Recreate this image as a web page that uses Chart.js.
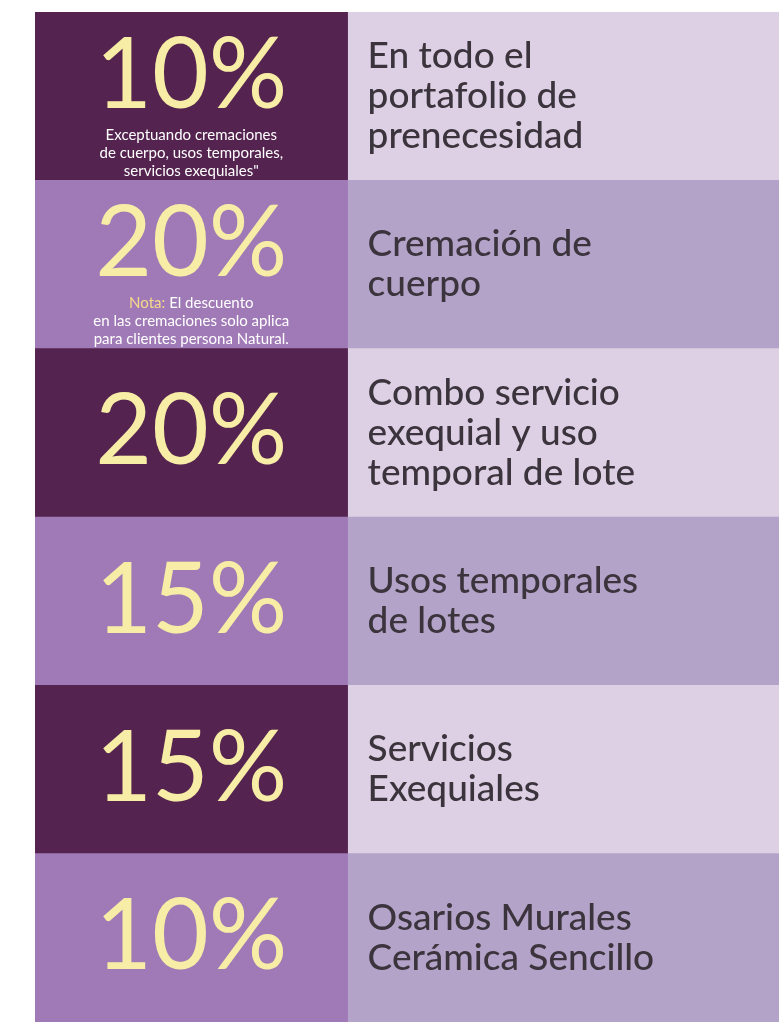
<!DOCTYPE html>
<html lang="es">
<head>
<meta charset="UTF-8">
<script src="https://cdn.jsdelivr.net/npm/chart.js"></script>
<title>Descuentos</title>
<style>
  html, body { margin: 0; padding: 0; background: #fff; }
  #wrap { width: 779px; height: 1024px; }
</style>
</head>
<body>
<div id="wrap"><canvas id="chart"></canvas></div>
<script>
// row data
const discounts = [10, 20, 20, 15, 15, 10];
const descriptions = [
  ['En todo el', 'portafolio de', 'prenecesidad'],
  ['Cremación de', 'cuerpo'],
  ['Combo servicio', 'exequial y uso', 'temporal de lote'],
  ['Usos temporales', 'de lotes'],
  ['Servicios', 'Exequiales'],
  ['Osarios Murales', 'Cerámica Sencillo']
];
const notes = [
  ['Exceptuando cremaciones', 'de cuerpo, usos temporales,', 'servicios exequiales"'],
  ['Nota: El descuento', 'en las cremaciones solo aplica', 'para clientes persona Natural.'],
  [], [], [], []
];
const leftColors = ['#54234f', '#a07ab6', '#54234f', '#a07ab6', '#54234f', '#a07ab6'];
const rightColors = ['#ddd0e4', '#b4a3c8', '#ddd0e4', '#b4a3c8', '#ddd0e4', '#b4a3c8'];

const labels = discounts.map((d, i) => 'fila ' + (i + 1));
const FONT = 'Lato, "Open Sans", sans-serif';

const textPlugin = {
  id: 'rowText',
  afterDatasetsDraw(chart) {
    const ctx = chart.ctx;
    const left = chart.getDatasetMeta(0).data;
    const right = chart.getDatasetMeta(1).data;
    ctx.save();
    left.forEach((bar, i) => {
      const cx = (bar.base + bar.x) / 2;
      const top = bar.y - bar.height / 2;
      const h = bar.height;
      const hasNote = notes[i].length > 0;
      ctx.fillStyle = '#f7eda6';
      ctx.textAlign = 'center';
      ctx.textBaseline = 'middle';
      ctx.font = '400 98px ' + FONT;
      ctx.fillText(discounts[i] + '%', cx, hasNote ? top + h * 0.38 : top + h / 2);
      if (hasNote) {
        ctx.font = '15px ' + FONT;
        notes[i].forEach((line, j) => {
          const y = top + h * 0.73 + j * 18;
          if (line.startsWith('Nota:')) {
            const w1 = ctx.measureText('Nota:').width;
            const w = ctx.measureText(line).width;
            ctx.textAlign = 'left';
            ctx.fillStyle = '#f7d98a';
            ctx.fillText('Nota:', cx - w / 2, y);
            ctx.fillStyle = '#ffffff';
            ctx.fillText(line.slice(5), cx - w / 2 + w1, y);
            ctx.textAlign = 'center';
          } else {
            ctx.fillStyle = '#ffffff';
            ctx.fillText(line, cx, y);
          }
        });
      }
      const rb = right[i];
      ctx.fillStyle = '#3b343d';
      ctx.textAlign = 'left';
      ctx.font = '500 37px ' + FONT;
      const lines = descriptions[i];
      const lh = 40;
      const y0 = rb.y - (lines.length - 1) * lh / 2;
      lines.forEach((line, j) => ctx.fillText(line, rb.base + 20, y0 + j * lh));
    });
    ctx.restore();
  }
};

new Chart(document.getElementById('chart'), {
  type: 'bar',
  data: {
    labels: labels,
    datasets: [
      { data: discounts.map(() => [0, 1]), backgroundColor: leftColors, borderWidth: 0 },
      { data: discounts.map(() => [1, 2.38]), backgroundColor: rightColors, borderWidth: 0 }
    ]
  },
  options: {
    indexAxis: 'y',
    responsive: true,
    maintainAspectRatio: false,
    animation: false,
    layout: { padding: { left: 35, top: 12, right: 0, bottom: 2 } },
    plugins: { legend: { display: false }, tooltip: { enabled: false } },
    datasets: { bar: { categoryPercentage: 1, barPercentage: 1, grouped: false } },
    scales: {
      x: { display: false, min: 0, max: 2.38 },
      y: { display: false }
    }
  },
  plugins: [textPlugin]
});
</script>
</body>
</html>
